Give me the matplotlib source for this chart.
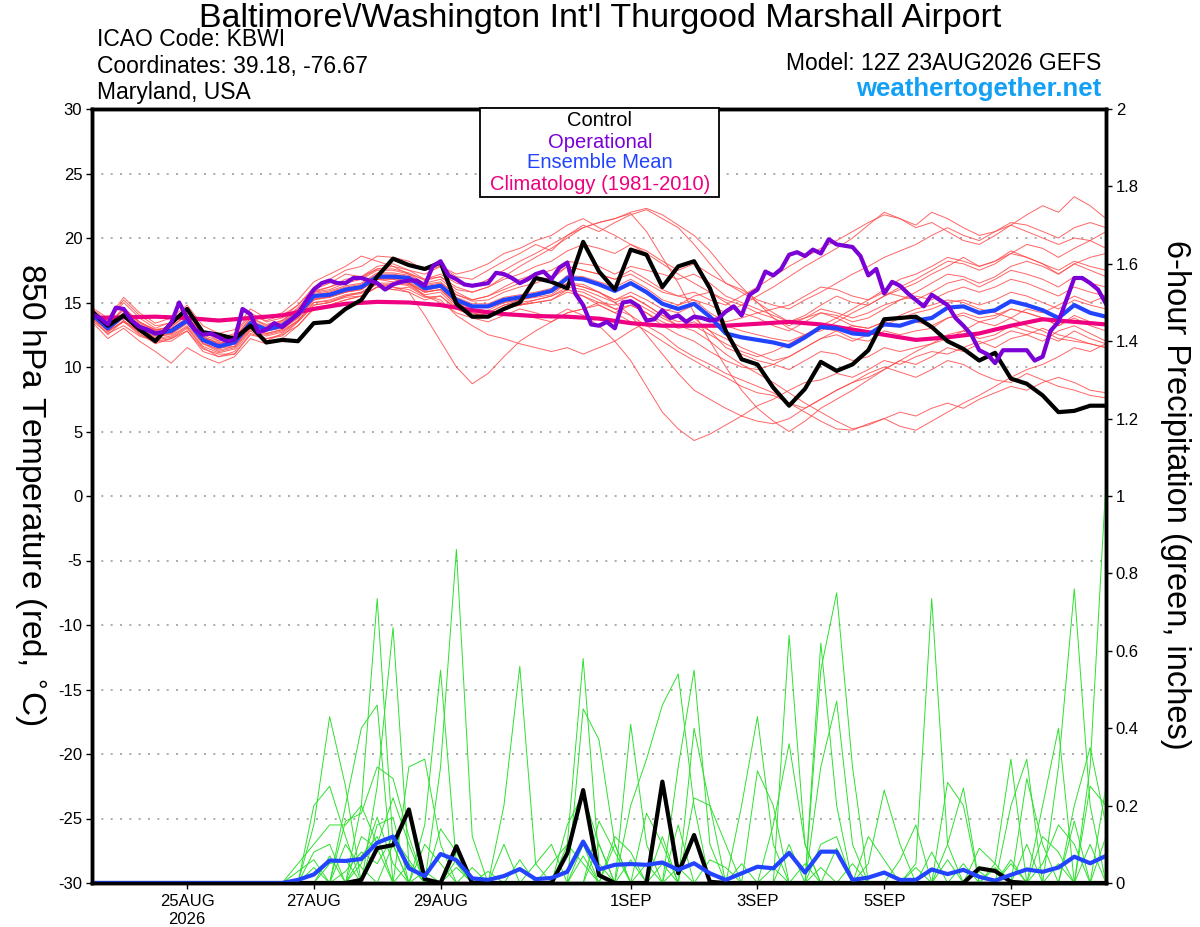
import numpy as np
import matplotlib
matplotlib.use('Agg')
import matplotlib.pyplot as plt
from matplotlib.patches import Rectangle

plt.rcParams['font.family'] = ['Liberation Sans', 'DejaVu Sans']

# ---------------- time axes ----------------
init = np.datetime64('2026-08-23T12:00')
t6 = init + np.arange(65) * np.timedelta64(6, 'h')
t3 = init + np.arange(129) * np.timedelta64(3, 'h')
t12 = init + np.arange(33) * np.timedelta64(12, 'h')

tick_dates = ['2026-08-25', '2026-08-27', '2026-08-29', '2026-09-01',
              '2026-09-03', '2026-09-05', '2026-09-07']
tick_labels = ['25AUG\n2026', '27AUG', '29AUG', '1SEP', '3SEP', '5SEP', '7SEP']
temp_ticks = [-30, -25, -20, -15, -10, -5, 0, 5, 10, 15, 20, 25, 30]
prec_ticks = [0, 0.2, 0.4, 0.6, 0.8, 1.0, 1.2, 1.4, 1.6, 1.8, 2.0]
prec_tick_labels = ['0', '0.2', '0.4', '0.6', '0.8', '1', '1.2', '1.4', '1.6', '1.8', '2']

# ---------------- temperature (850 hPa, C) ----------------
control_temp = [14.3, 13.2, 14.0, 12.9, 12.0, 13.4, 14.5, 12.7, 12.5, 12.2, 13.2, 11.9, 12.1,
                12.0, 13.4, 13.5, 14.5, 15.2, 17.0, 18.4, 17.9, 17.6, 18.1, 14.9, 13.9, 13.9,
                14.5, 15.0, 16.9, 16.6, 16.1, 19.7, 17.4, 16.0, 19.1, 18.7, 16.2, 17.8, 18.2,
                16.1, 12.8, 10.6, 10.2, 8.4, 7.0, 8.3, 10.4, 9.7, 10.2, 11.3, 13.7, 13.8,
                13.9, 13.1, 12.0, 11.4, 10.5, 11.1, 9.1, 8.7, 7.8, 6.5, 6.6, 7.0, 7.0]

mean_temp = [14.1, 13.0, 14.0, 13.1, 12.6, 12.8, 13.6, 12.1, 11.6, 11.9, 13.4, 12.9, 13.2,
             14.1, 15.5, 15.6, 16.0, 16.2, 17.0, 17.0, 16.9, 16.1, 16.3, 15.2, 14.7, 14.7,
             15.2, 15.4, 15.6, 15.9, 16.9, 16.8, 16.4, 15.9, 16.5, 15.8, 14.9, 14.5, 14.9,
             13.9, 12.6, 12.3, 12.1, 11.9, 11.6, 12.3, 13.1, 13.0, 12.6, 12.5, 13.3, 13.2,
             13.6, 13.8, 14.6, 14.7, 14.2, 14.4, 15.1, 14.8, 14.4, 13.8, 14.8, 14.2, 13.9]

oper_temp = [14.1, 13.8, 13.3, 14.6, 14.5, 13.6, 13.1, 12.9, 12.6, 12.7, 13.4, 15.0, 13.8,
             12.9, 12.5, 12.6, 12.3, 12.0, 12.1, 14.5, 14.1, 12.7, 12.9, 13.4, 13.1, 13.6,
             14.1, 15.1, 16.0, 16.5, 16.7, 16.5, 16.5, 16.9, 16.9, 16.7, 16.5, 16.0, 16.4,
             16.6, 16.7, 16.7, 16.3, 17.8, 18.2, 17.1, 16.8, 16.4, 16.3, 16.4, 16.5, 17.3,
             17.2, 16.9, 16.5, 16.8, 17.2, 17.4, 16.8, 17.7, 18.1, 15.7, 14.8, 13.3, 13.2,
             13.5, 13.0, 15.0, 15.1, 14.7, 13.6, 13.7, 14.4, 13.8, 14.0, 13.5, 13.9, 13.8,
             13.6, 13.7, 14.3, 14.7, 14.0, 15.6, 16.0, 17.4, 17.1, 17.6, 18.7, 18.9, 18.6,
             19.1, 18.8, 19.9, 19.5, 19.4, 19.3, 18.6, 17.1, 17.6, 15.7, 16.6, 16.3, 15.7,
             15.2, 14.7, 15.6, 15.2, 14.8, 13.8, 13.2, 12.5, 11.3, 11.0, 10.3, 11.3, 11.3,
             11.3, 11.3, 10.5, 10.8, 12.8, 13.5, 15.2, 16.9, 16.9, 16.5, 16.0, 14.9]

clim_temp = [13.8, 13.85, 13.9, 13.8, 13.6, 13.8, 14.0, 14.5, 14.9, 15.05, 15.0, 14.8, 14.4,
             14.1, 13.95, 13.9, 13.75, 13.4, 13.2, 13.2, 13.2, 13.35, 13.5, 13.3, 12.9, 12.5,
             12.1, 12.3, 12.6, 13.2, 13.7, 13.5, 13.3]

red_members = [
    [14.3, 13.5, 15.0, 13.8, 13.0, 13.5, 14.2, 12.8, 12.0, 12.5, 14.0, 13.6, 14.0,
     14.8, 16.0, 16.5, 17.2, 17.0, 17.8, 18.0, 17.5, 17.2, 17.8, 17.0, 16.8, 17.5,
     18.2, 18.8, 19.5, 19.0, 20.2, 21.0, 20.5, 21.2, 21.8, 22.2, 21.5, 20.8, 19.5,
     18.0, 16.5, 15.8, 15.0, 14.2, 13.5, 14.0, 14.8, 15.5, 15.0, 14.8, 15.5, 16.0,
     16.5, 17.2, 17.8, 18.5, 17.8, 18.2, 19.0, 18.5, 18.0, 17.2, 18.0, 17.5, 17.0],
    [13.8, 12.5, 13.6, 12.6, 11.8, 12.2, 13.0, 11.5, 10.8, 11.2, 12.8, 12.0, 12.6,
     13.5, 14.8, 15.0, 15.5, 15.8, 16.4, 16.0, 16.2, 15.5, 15.0, 14.2, 13.8, 13.5,
     14.0, 14.5, 14.2, 13.8, 14.5, 14.0, 13.2, 12.0, 10.5, 8.5, 6.5, 5.2, 4.3,
     4.8, 5.5, 6.2, 7.0, 7.5, 8.2, 8.8, 9.0, 9.5, 9.2, 9.8, 10.5, 10.2,
     10.8, 11.2, 11.0, 11.5, 12.0, 11.5, 12.2, 12.5, 12.0, 12.8, 13.2, 12.6, 12.0],
    [14.0, 13.2, 14.5, 13.5, 12.8, 13.2, 14.0, 12.4, 11.8, 12.2, 13.8, 13.2, 13.6,
     14.5, 15.8, 16.2, 16.8, 17.0, 17.6, 17.8, 17.2, 16.5, 16.8, 15.8, 15.2, 15.5,
     16.0, 16.5, 17.0, 16.8, 17.8, 17.5, 17.2, 16.8, 17.5, 16.8, 16.0, 15.5, 15.2,
     14.8, 14.2, 14.8, 15.5, 16.2, 17.0, 17.8, 18.5, 19.2, 20.0, 21.0, 22.0, 21.5,
     20.8, 21.2, 20.5, 19.8, 19.5, 20.2, 21.0, 21.8, 22.5, 22.0, 23.2, 22.5, 21.5],
    [13.6, 12.6, 13.2, 12.4, 12.0, 12.0, 12.8, 11.4, 11.0, 11.0, 12.5, 12.2, 12.5,
     13.2, 14.6, 14.8, 15.2, 15.5, 16.2, 16.5, 16.4, 15.8, 16.0, 14.8, 14.2, 13.8,
     14.5, 14.8, 15.2, 15.5, 16.0, 15.5, 14.8, 14.2, 13.5, 12.8, 12.0, 11.2, 10.5,
     9.8, 9.2, 8.5, 8.0, 7.8, 7.2, 6.8, 7.5, 8.2, 8.8, 9.5, 10.0, 9.6,
     9.2, 9.8, 10.5, 10.2, 9.5, 9.0, 8.8, 9.5, 9.0, 8.5, 8.2, 7.8, 7.6],
    [14.2, 13.0, 13.8, 13.0, 12.5, 12.6, 13.4, 12.0, 11.5, 11.6, 13.2, 12.6, 12.9,
     13.8, 15.2, 15.4, 15.8, 16.0, 16.8, 16.6, 16.5, 15.8, 16.0, 14.8, 14.2, 14.0,
     14.6, 14.8, 15.0, 15.2, 16.0, 15.8, 15.2, 14.5, 14.0, 13.2, 12.5, 11.5, 10.8,
     10.2, 9.5, 9.0, 8.5, 8.0, 7.2, 6.5, 5.8, 5.2, 5.1, 5.6, 6.0, 5.4,
     5.1, 5.8, 6.5, 7.2, 7.8, 8.5, 9.2, 9.8, 10.2, 10.8, 11.5, 11.2, 11.8],
    [14.0, 12.8, 13.5, 12.8, 12.2, 12.4, 13.2, 11.8, 11.2, 11.5, 13.0, 12.5, 12.8,
     13.6, 15.0, 15.2, 15.6, 15.8, 16.5, 16.2, 15.8, 14.0, 12.0, 10.0, 8.7, 9.5,
     10.8, 12.0, 12.8, 13.5, 14.2, 14.5, 15.0, 14.8, 15.2, 14.5, 13.8, 13.2, 13.5,
     12.8, 12.2, 11.5, 11.0, 10.5, 10.8, 11.5, 12.2, 12.5, 12.0, 12.5, 13.2, 13.8,
     14.2, 14.5, 15.0, 15.2, 14.8, 15.2, 15.8, 15.5, 15.0, 14.5, 15.2, 14.8, 14.5],
    [14.5, 13.6, 15.2, 14.0, 13.2, 13.4, 14.4, 12.8, 12.2, 12.6, 14.2, 13.5, 13.8,
     14.8, 16.2, 16.8, 17.5, 17.8, 18.6, 18.5, 18.2, 17.5, 17.8, 17.2, 17.5, 18.0,
     18.8, 19.2, 19.8, 20.2, 21.0, 21.5, 20.8, 20.2, 19.5, 18.8, 18.0, 17.2, 16.5,
     15.8, 15.0, 14.2, 13.8, 13.2, 12.8, 13.5, 14.2, 14.0, 13.5, 13.8, 14.5, 15.2,
     15.8, 16.5, 17.2, 17.0, 16.5, 17.0, 17.8, 18.2, 17.8, 17.2, 18.0, 18.5, 18.8],
    [14.0, 12.8, 13.8, 12.8, 12.4, 12.5, 13.4, 11.8, 11.4, 11.8, 13.2, 12.8, 13.0,
     13.8, 15.2, 15.5, 15.8, 16.0, 16.8, 16.8, 16.5, 15.8, 16.0, 15.0, 14.5, 14.2,
     14.8, 15.0, 15.2, 15.5, 16.2, 16.0, 15.5, 15.0, 15.5, 14.8, 14.0, 13.5, 13.8,
     12.8, 11.5, 11.0, 10.5, 10.2, 9.8, 10.5, 11.2, 11.0, 10.5, 10.8, 11.5, 11.2,
     11.5, 11.8, 12.5, 12.8, 12.2, 12.5, 13.2, 12.8, 12.5, 12.0, 12.8, 12.2, 11.8],
    [14.4, 13.3, 14.6, 13.5, 12.9, 13.0, 13.8, 12.3, 11.8, 12.2, 13.6, 13.0, 13.4,
     14.4, 15.8, 16.0, 16.5, 16.8, 17.5, 17.5, 17.2, 16.8, 17.2, 16.5, 16.2, 16.8,
     17.5, 18.2, 18.8, 19.5, 20.2, 20.8, 21.2, 21.5, 22.0, 22.3, 21.8, 21.0, 20.2,
     19.0, 17.5, 16.2, 15.0, 13.8, 13.0, 12.5, 12.8, 13.5, 14.2, 14.8, 15.5, 16.2,
     16.8, 17.5, 18.2, 18.0, 17.5, 18.0, 18.8, 19.5, 19.2, 18.5, 19.2, 19.8, 20.5],
    [13.9, 12.9, 13.9, 12.9, 12.3, 12.6, 13.5, 11.9, 11.3, 11.6, 13.1, 12.6, 12.9,
     13.9, 15.3, 15.4, 15.8, 16.1, 16.8, 16.9, 16.6, 15.9, 16.2, 15.0, 14.3, 14.4,
     15.0, 15.2, 15.5, 15.8, 16.5, 16.2, 15.8, 15.0, 14.0, 12.5, 11.0, 9.5, 8.2,
     7.5, 6.8, 6.2, 5.8, 5.6, 6.0, 6.8, 7.5, 8.2, 8.8, 9.2, 9.8, 10.5,
     10.2, 10.8, 11.5, 11.2, 11.8, 12.2, 12.8, 12.5, 13.0, 12.5, 12.2, 11.8, 11.5],
    [14.6, 13.8, 15.4, 14.2, 13.4, 13.8, 14.8, 13.2, 12.6, 12.9, 14.5, 13.8, 14.2,
     15.2, 16.6, 17.2, 17.8, 18.6, 18.2, 17.8, 17.5, 16.8, 17.0, 16.0, 15.8, 16.2,
     16.8, 17.2, 17.8, 18.2, 19.0, 19.5, 19.2, 18.8, 19.5, 19.0, 18.2, 17.5, 18.0,
     17.2, 16.5, 16.0, 15.2, 14.8, 14.5, 15.2, 15.8, 16.5, 17.2, 17.8, 18.5, 19.0,
     19.5, 20.2, 20.8, 20.2, 19.8, 20.5, 21.2, 21.0, 20.5, 20.0, 20.8, 21.2, 20.8],
    [14.1, 13.1, 14.1, 13.2, 12.7, 12.9, 13.7, 12.2, 11.7, 12.0, 13.5, 13.0, 13.3,
     14.2, 15.6, 15.7, 16.1, 16.3, 17.1, 17.1, 17.0, 16.2, 16.4, 15.4, 14.9, 14.9,
     15.4, 15.6, 15.8, 16.1, 17.1, 17.0, 16.6, 16.2, 16.8, 16.1, 15.2, 14.8, 15.2,
     14.2, 13.5, 13.8, 14.2, 14.5, 14.8, 15.5, 16.2, 16.0, 15.5, 15.2, 16.0, 16.8,
     17.2, 17.8, 18.5, 18.2, 17.8, 18.2, 18.8, 18.5, 18.0, 17.5, 18.2, 17.8, 17.5],
    [13.5, 12.2, 13.0, 12.0, 11.2, 10.3, 11.5, 10.8, 10.3, 10.8, 12.2, 11.8, 12.2,
     13.2, 14.5, 14.8, 15.2, 15.5, 16.2, 16.0, 15.8, 15.2, 15.5, 14.5, 14.0, 14.2,
     14.8, 15.2, 15.5, 15.8, 16.5, 16.2, 15.8, 15.2, 15.8, 15.2, 14.5, 14.2, 14.8,
     14.0, 13.2, 12.8, 12.5, 12.2, 12.0, 12.5, 13.0, 12.8, 12.2, 12.0, 12.8, 12.5,
     12.8, 13.0, 13.8, 14.0, 13.5, 13.8, 14.5, 14.2, 13.8, 13.2, 14.0, 13.5, 13.2],
    [14.2, 13.4, 14.4, 13.4, 12.9, 13.1, 14.0, 12.5, 12.0, 12.3, 13.8, 13.3, 13.6,
     14.6, 15.9, 16.2, 16.6, 16.9, 17.6, 17.6, 17.3, 16.7, 17.0, 16.2, 15.8, 16.2,
     17.0, 17.8, 18.5, 19.2, 20.0, 20.8, 21.2, 21.5, 21.9, 20.5, 18.5, 16.5, 14.2,
     12.0, 10.0, 8.2, 6.8, 5.8, 5.0, 5.8, 6.8, 7.5, 8.2, 9.0, 9.8, 10.5,
     11.2, 11.8, 12.2, 12.8, 13.5, 13.2, 13.8, 14.5, 14.2, 14.8, 15.5, 15.0, 15.5],
    [13.9, 12.7, 13.6, 12.7, 12.1, 12.3, 13.1, 11.6, 11.1, 11.4, 12.9, 12.4, 12.7,
     13.6, 15.0, 15.1, 15.5, 15.7, 16.5, 16.5, 16.3, 15.6, 15.8, 14.6, 14.0, 13.9,
     14.2, 14.0, 13.8, 13.5, 14.2, 14.5, 14.8, 14.2, 14.8, 14.2, 13.5, 13.0, 13.2,
     12.5, 11.8, 11.2, 10.8, 11.2, 11.8, 12.5, 13.2, 13.8, 14.5, 15.2, 15.8, 15.5,
     15.2, 15.8, 16.5, 16.8, 16.2, 16.8, 17.5, 17.2, 16.8, 16.2, 17.0, 16.5, 16.2],
    [14.3, 13.2, 14.2, 13.3, 12.8, 12.9, 13.8, 12.3, 11.9, 12.1, 13.6, 13.1, 13.5,
     14.4, 15.7, 15.9, 16.3, 16.5, 17.3, 17.3, 17.1, 16.4, 16.6, 15.6, 15.1, 15.2,
     15.8, 16.2, 16.5, 17.0, 17.8, 17.5, 17.2, 16.8, 17.2, 16.5, 15.8, 15.5, 15.8,
     15.2, 14.8, 15.5, 16.2, 17.0, 17.8, 18.5, 19.2, 19.8, 20.5, 21.2, 21.8, 21.5,
     21.0, 22.0, 21.5, 20.8, 20.2, 20.5, 21.0, 20.5, 20.0, 19.5, 20.0, 19.8, 19.2],
    [14.0, 12.9, 13.9, 12.9, 12.5, 12.7, 13.5, 12.0, 11.5, 11.8, 13.3, 12.8, 13.1,
     14.0, 15.4, 15.5, 15.9, 16.1, 16.9, 16.8, 16.5, 15.5, 15.2, 14.0, 13.2, 12.5,
     12.2, 11.8, 11.5, 11.2, 11.5, 11.0, 11.5, 12.0, 12.8, 13.5, 14.2, 14.8, 15.5,
     15.8, 15.2, 14.8, 14.2, 13.8, 13.2, 13.8, 14.5, 14.2, 13.8, 14.2, 14.8, 15.2,
     15.5, 15.2, 15.8, 16.2, 15.8, 16.2, 16.8, 16.5, 16.0, 15.5, 16.2, 15.8, 15.5],
    [14.1, 13.0, 14.0, 13.0, 12.6, 12.8, 13.5, 12.1, 11.6, 11.9, 13.4, 12.9, 13.2,
     14.0, 15.4, 15.6, 15.9, 16.2, 16.9, 16.9, 16.8, 16.0, 16.2, 15.1, 14.6, 14.6,
     15.0, 15.2, 15.4, 15.6, 16.5, 16.4, 15.8, 15.2, 15.5, 14.8, 14.0, 13.2, 12.8,
     12.0, 11.0, 10.2, 9.5, 8.8, 8.0, 7.2, 6.5, 5.8, 5.2, 5.5, 6.0, 6.5,
     6.2, 6.8, 7.2, 6.8, 7.5, 8.0, 8.5, 8.2, 8.8, 9.2, 8.8, 8.2, 8.0],
    [14.2, 13.1, 14.2, 13.2, 12.7, 12.9, 13.7, 12.1, 11.7, 12.0, 13.5, 13.0, 13.3,
     14.2, 15.6, 15.8, 16.2, 16.4, 17.2, 17.2, 17.0, 16.3, 16.5, 15.6, 15.2, 15.5,
     16.2, 16.8, 17.2, 17.5, 18.2, 18.0, 17.8, 17.2, 17.8, 17.5, 17.2, 16.8, 17.2,
     16.5, 15.5, 15.0, 14.5, 14.0, 13.5, 13.8, 14.2, 13.8, 13.2, 13.0, 13.5, 13.2,
     13.5, 13.2, 13.8, 14.2, 13.8, 14.0, 14.5, 14.2, 13.8, 13.2, 13.8, 13.2, 12.8],
    [13.8, 12.8, 13.5, 12.5, 12.0, 12.2, 12.8, 11.2, 10.8, 11.0, 12.6, 12.2, 12.4,
     13.5, 14.8, 15.0, 15.4, 15.5, 16.2, 16.2, 16.0, 15.4, 15.5, 14.5, 14.0, 14.0,
     14.5, 14.8, 15.0, 15.2, 15.8, 15.5, 15.0, 14.5, 14.8, 14.2, 13.2, 12.5, 12.0,
     11.2, 10.5, 10.0, 9.8, 10.2, 10.8, 11.5, 12.2, 12.8, 13.2, 13.0, 13.5, 14.0,
     14.5, 14.8, 15.2, 15.0, 14.5, 14.2, 13.8, 13.2, 12.8, 12.2, 12.0, 11.8, 11.5],
]

# ---------------- 6-hour precipitation (inches) ----------------
control_prec = [0, 0, 0, 0, 0, 0, 0, 0, 0, 0, 0, 0, 0,
                0, 0, 0, 0, 0.008, 0.09, 0.098, 0.19, 0.01, 0, 0.095, 0, 0,
                0, 0, 0, 0, 0.077, 0.24, 0.02, 0, 0, 0, 0.262, 0.025, 0.124,
                0.003, 0, 0, 0, 0, 0, 0, 0, 0, 0, 0, 0, 0,
                0, 0, 0, 0, 0.038, 0.031, 0.003, 0, 0, 0, 0, 0, 0]

mean_prec = [0, 0, 0, 0, 0, 0, 0, 0, 0, 0, 0, 0, 0,
             0.008, 0.022, 0.058, 0.057, 0.062, 0.104, 0.12, 0.038, 0.018, 0.075, 0.059, 0.012, 0.008,
             0.018, 0.036, 0.01, 0.013, 0.029, 0.107, 0.035, 0.047, 0.049, 0.047, 0.053, 0.034, 0.051,
             0.025, 0.008, 0.025, 0.042, 0.038, 0.078, 0.027, 0.081, 0.081, 0.008, 0.014, 0.027, 0.008,
             0.008, 0.035, 0.023, 0.034, 0.016, 0.006, 0.021, 0.035, 0.029, 0.04, 0.068, 0.051, 0.07]

green_members = [
    [0,0,0,0,0,0,0,0,0,0,0,0,0,
     0,0,0,0,.2,.735,.1,0,0,0,0,0,0,
     0,0,0,0,0,.1,0,0,0,0,0,0,0,
     0,0,0,0,0,.64,.1,0,0,0,0,0,0,
     0,0,0,0,0,0,.05,0,0,0,0,0,0],
    [0,0,0,0,0,0,0,0,0,0,0,0,0,
     0,0,0,0,0,.25,.66,.05,0,0,0,0,0,
     0,0,0,0,0,0,0,.1,0,0,0,0,0,
     0,0,0,0,0,0,0,.62,.2,0,0,0,0,
     0,0,0,0,0,0,0,0,.2,.4,0,0,0],
    [0,0,0,0,0,0,0,0,0,0,0,0,0,
     0,0,0,0,0,0,0,0,0,.3,.862,.12,0,
     0,0,0,0,0,0,0,0,0,0,.05,0,0,
     0,0,0,0,0,0,0,0,0,0,0,0,0,
     .05,.735,.1,0,0,0,0,0,0,0,0,0,0],
    [0,0,0,0,0,0,0,0,0,0,0,0,0,
     0,0,0,0,0,0,0,0,.15,.55,.05,0,0,
     .2,.56,.05,0,0,0,0,0,0,0,0,0,0,
     0,0,0,0,0,0,0,0,0,0,0,0,0,
     0,0,0,0,0,0,0,0,0,.3,.76,.2,0],
    [0,0,0,0,0,0,0,0,0,0,0,0,0,
     0,.15,.43,.25,0,0,0,0,0,0,0,0,0,
     0,0,0,0,.1,.58,.05,0,0,0,0,0,0,
     0,0,0,0,0,0,0,.55,.75,.3,0,0,0,
     0,0,0,0,0,0,0,0,0,0,0,0,0],
    [0,0,0,0,0,0,0,0,0,0,0,0,0,
     0,0,0,.2,.4,.46,0,0,0,0,0,0,0,
     0,0,0,0,0,.45,.37,.1,0,0,0,0,0,
     0,0,0,0,0,0,0,0,0,0,0,0,0,
     0,0,0,0,0,0,0,0,0,0,0,.3,1.04],
    [0,0,0,0,0,0,0,0,0,0,0,0,0,
     0,0,0,0,0,0,0,0,0,0,0,0,0,
     0,0,0,0,0,0,0,0,.41,.1,0,0,0,
     0,0,.2,.43,.1,0,0,0,0,0,0,0,0,
     0,0,0,0,0,0,.2,.32,0,0,0,0,0],
    [0,0,0,0,0,0,0,0,0,0,0,0,0,
     0,0,0,0,0,0,0,0,0,0,0,0,0,
     0,0,0,0,0,0,0,0,.2,.32,.46,.54,.2,
     0,0,0,0,0,0,0,0,0,0,0,0,0,
     0,0,.1,.245,0,0,0,0,0,0,0,0,0],
    [0,0,0,0,0,0,0,0,0,0,0,0,0,
     0,0,0,0,0,0,0,0,0,0,0,0,0,
     0,0,0,0,0,0,0,0,0,0,0,.3,.55,
     .1,0,0,0,.15,.36,.1,0,0,0,0,0,0,
     0,0,0,0,0,.05,.32,0,0,0,0,0,0],
    [0,0,0,0,0,0,0,0,0,0,0,0,0,
     0,0,0,0,0,0,0,0,0,0,0,0,0,
     0,0,0,0,0,0,0,0,0,0,0,0,.4,
     .2,0,0,0,0,0,0,0,0,0,.05,.24,.1,
     0,0,0,0,0,0,0,0,0,0,0,.25,.2],
    [0,0,0,0,0,0,0,0,0,0,0,0,0,
     0,.2,.25,.12,0,0,0,.3,.32,.1,0,0,0,
     0,0,0,0,0,0,0,0,0,0,0,0,0,
     0,0,0,.29,.2,0,0,0,0,0,0,0,0,
     0,0,.26,.2,0,0,0,0,0,0,0,0,0],
    [0,0,0,0,0,0,0,0,0,0,0,0,0,
     .05,.1,.15,.15,.2,.1,.22,.1,0,0,0,0,0,
     .1,0,0,0,0,0,0,0,0,0,0,0,0,
     0,0,0,0,0,0,0,.3,.47,.1,0,0,0,
     0,0,0,0,0,0,0,0,0,0,0,0,0],
    [0,0,0,0,0,0,0,0,0,0,0,0,0,
     0,0,0,.16,.18,.3,.27,.12,0,0,0,0,0,
     0,0,.05,.1,0,0,.1,0,0,0,0,0,0,
     0,0,0,0,0,0,0,0,0,0,0,0,0,
     0,0,0,0,0,0,0,.27,.1,0,0,0,0],
    [0,0,0,0,0,0,0,0,0,0,0,0,0,
     0,0,0,0,0,0,0,0,0,0,0,0,0,
     0,0,0,0,0,0,0,0,0,0,0,0,.22,
     .2,.1,0,0,0,0,0,.1,.12,0,0,0,0,
     0,0,0,0,.09,.05,0,0,0,0,.2,.35,.15],
    [0,0,0,0,0,0,0,0,0,0,0,0,0,
     0,.08,.1,0,.07,.12,0,0,0,0,0,.04,0,
     0,0,0,0,.15,.23,.1,0,0,.18,.1,0,0,
     0,0,0,0,0,0,0,0,0,0,0,0,.06,
     .15,0,0,0,0,0,0,0,.05,.15,.1,0,0],
    [0,0,0,0,0,0,0,0,0,0,0,0,0,
     .03,.06,0,.1,.04,0,.1,0,0,0,.06,0,.03,
     0,0,0,0,0,0,0,.12,.08,0,0,.15,0,
     0,0,0,0,0,0,.05,0,0,0,.12,.06,0,
     0,0,0,0,0,.04,0,0,0,0,0,0,.25],
    [0,0,0,0,0,0,0,0,0,0,0,0,0,
     0,0,.05,.06,0,.15,.17,0,.03,0,0,0,0,
     0,0,0,.05,.1,.05,0,0,0,0,0,0,0,
     .06,.04,0,0,0,0,0,0,0,.05,0,0,0,
     0,.08,0,0,.03,0,0,0,.12,.08,0,0,0],
    [0,0,0,0,0,0,0,0,0,0,0,0,0,
     0,.04,0,0,.12,.09,0,.05,0,.14,.08,0,0,
     0,0,0,0,0,0,.16,.08,0,0,.12,0,0,
     0,0,.05,0,0,.1,0,0,0,0,0,0,0,
     .04,0,0,0,0,0,.06,0,0,0,.16,0,0],
    [0,0,0,0,0,0,0,0,0,0,0,0,0,
     0,0,0,.03,.08,.05,.12,.06,0,0,.04,0,0,
     0,.06,0,0,0,.07,0,0,0,.05,0,0,0,
     0,0,0,0,.04,0,0,0,.09,0,0,0,0,
     0,0,0,.05,0,0,0,.1,0,0,0,.1,0],
    [0,.003,0,0,0,0,0,0,0,0,0,0,0,
     0,0,.07,0,.05,.17,.05,0,.1,.05,0,0,0,
     0,0,0,0,0,0,0,0,.06,0,0,.04,0,
     0,0,0,0,0,0,0,.04,0,0,0,0,0,
     0,0,.06,0,0,0,0,0,0,.05,0,0,.12],
]

for s in red_members + green_members + [control_temp, mean_temp, control_prec, mean_prec]:
    assert len(s) == 65, len(s)
assert len(oper_temp) == 129 and len(clim_temp) == 33

# ---------------- colours ----------------
RED = '#ff4a4a'
GREEN = '#2ee02e'
BLACK = '#000000'
PURPLE = '#7a00d6'
BLUE = '#2244ff'
MAGENTA = '#ee0080'
WEB = '#12a0f4'

# ---------------- figure ----------------
fig = plt.figure(figsize=(12, 9.27), dpi=100)
ax = fig.add_axes([92 / 1200, 44 / 927, 1014 / 1200, 774 / 927])
ax2 = ax.twinx()

for t in temp_ticks[1:-1]:
    ax.axhline(t, color='#aaaaaa', lw=1.4, ls=(0, (1, 3.8)), zorder=0)

for m in red_members:
    ax.plot(t6, m, color=RED, lw=0.7, alpha=0.85, zorder=1)
ax.plot(t12, clim_temp, color=MAGENTA, lw=3, zorder=3, solid_capstyle='round')
ax.plot(t6, mean_temp, color=BLUE, lw=3, zorder=4)
ax.plot(t6, control_temp, color=BLACK, lw=3, zorder=5)
ax.plot(t3, oper_temp, color=PURPLE, lw=3, zorder=6)

for m in green_members:
    ax2.plot(t6, m, color=GREEN, lw=0.7, zorder=1)
ax2.plot(t6, control_prec, color=BLACK, lw=3, zorder=3)
ax2.plot(t6, mean_prec, color=BLUE, lw=3, zorder=4)

ax.set_xlim(t6[0], t6[-1])
ax.set_ylim(-30, 30)
ax2.set_ylim(0, 2)
ax.set_yticks(temp_ticks)
ax.set_yticklabels([str(v) for v in temp_ticks])
ax2.set_yticks(prec_ticks)
ax2.set_yticklabels(prec_tick_labels)
ax.set_xticks([np.datetime64(d + 'T00:00') for d in tick_dates])
ax.set_xticklabels(tick_labels, linespacing=1.25)

ax.tick_params(axis='y', direction='out', length=4, width=1, labelsize=12, pad=3)
ax2.tick_params(axis='y', direction='out', length=4, width=1, labelsize=12, pad=3)
ax.tick_params(axis='x', direction='out', length=4, width=1, labelsize=12, pad=4)

for a in (ax, ax2):
    for sp in a.spines.values():
        sp.set_linewidth(2.5)
        sp.set_color('black')
        sp.set_zorder(20)

# ---------------- texts ----------------
fig.text(0.5, 1 - 18 / 927, "Baltimore\\/Washington Int'l Thurgood Marshall Airport",
         ha='center', va='center', fontsize=24.5)
fig.text(97 / 1200, 1 - 40 / 927, 'ICAO Code: KBWI', ha='left', va='center', fontsize=16.5)
fig.text(97 / 1200, 1 - 66 / 927, 'Coordinates: 39.18, -76.67', ha='left', va='center', fontsize=16.5)
fig.text(97 / 1200, 1 - 93 / 927, 'Maryland, USA', ha='left', va='center', fontsize=16.5)
fig.text(1101 / 1200, 1 - 64 / 927, 'Model: 12Z 23AUG2026 GEFS', ha='right', va='center', fontsize=16.5)
fig.text(1101 / 1200, 1 - 89 / 927, 'weathertogether.net', ha='right', va='center',
         fontsize=18.5, fontweight='bold', color=WEB)

fig.text(30 / 1200, 1 - 494 / 927, '850 hPa Temperature (red, $^{\\circ}$C)', rotation=270,
         ha='center', va='center', fontsize=24)
fig.text(1175 / 1200, 1 - 495 / 927, '6-hour Precipitation (green, inches)', rotation=270,
         ha='center', va='center', fontsize=23.5)

# legend box
fig.patches.append(Rectangle((480 / 1200, 1 - 197 / 927), 239 / 1200, 89 / 927,
                             transform=fig.transFigure, facecolor='white',
                             edgecolor='black', lw=1.3, zorder=10))
legend_items = [('Control', BLACK, 121), ('Operational', PURPLE, 142),
                ('Ensemble Mean', BLUE, 163), ('Climatology (1981-2010)', MAGENTA, 185)]
for txt, col, yy in legend_items:
    fig.text(600 / 1200, 1 - yy / 927, txt, ha='center', va='center', fontsize=14.5,
             color=col, zorder=11)

fig.savefig('out.png', dpi=100)
